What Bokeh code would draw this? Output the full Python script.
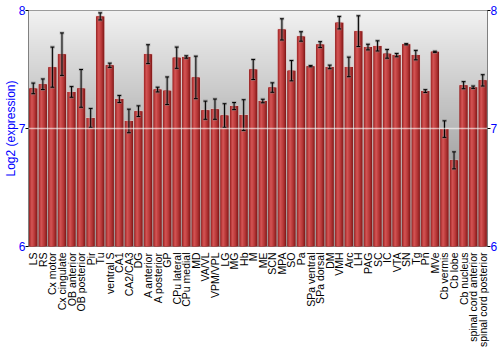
import numpy as np
from bokeh.plotting import figure
from bokeh.models import (ColumnDataSource, FactorRange, Range1d, LinearAxis, FixedTicker, Span)
from bokeh.transform import dodge
from bokeh.embed import file_html
from bokeh.resources import INLINE

categories = ["LS", "RS", "Cx motor", "Cx cingulate", "OB anterior", "OB posterior", "Pir", "Tu",
              "ventral S", "CA1", "CA2/CA3", "DG", "A anterior", "A posterior", "GP", "CPu lateral",
              "CPu medial", "MD", "VA/VL", "VPM/VPL", "LG", "MG", "Hb", "M", "ME", "SCN", "MPA", "SO",
              "Pa", "SPa ventral", "SPa dorsal", "DM", "VMH", "Arc", "LH", "PAG", "SC", "IC", "VTA",
              "SN", "Tg", "Pn", "MVe", "Cb vermis", "Cb lobe", "Cb nucleus",
              "spinal cord anterior", "spinal cord posterior"]
values = [7.34, 7.375, 7.52, 7.63, 7.31, 7.34, 7.09, 7.95, 7.536, 7.25,
          7.064, 7.147, 7.63, 7.33, 7.32, 7.60, 7.606, 7.433, 7.155, 7.164,
          7.11, 7.19, 7.114, 7.50, 7.233, 7.347, 7.84, 7.49, 7.78, 7.528,
          7.711, 7.522, 7.897, 7.522, 7.825, 7.69, 7.70, 7.633, 7.622, 7.714,
          7.622, 7.317, 7.65, 6.995, 6.73, 7.367, 7.35, 7.408]
errors = [0.045, 0.045, 0.17, 0.18, 0.045, 0.16, 0.08, 0.03, 0.018, 0.03,
          0.10, 0.045, 0.08, 0.02, 0.117, 0.09, 0.01, 0.18, 0.077, 0.086,
          0.10, 0.03, 0.13, 0.085, 0.015, 0.04, 0.09, 0.086, 0.04, 0.005,
          0.025, 0.015, 0.053, 0.083, 0.13, 0.024, 0.043, 0.037, 0.014, 0.005,
          0.04, 0.012, 0.005, 0.07, 0.072, 0.03, 0.01, 0.048]
y_ticks = [6, 7, 8]
y_min, y_max = 6, 8

vals = np.array(values)
errs = np.array(errors)
src = ColumnDataSource(dict(cat=categories, top=vals, halo=vals + 0.008,
                            upper=vals + errs, lower=vals - errs))

FONT = "Liberation Sans"
BLUE = "#0000ff"

p = figure(width=500, height=350, output_backend="svg", toolbar_location=None,
           x_range=FactorRange(factors=categories), y_range=Range1d(y_min, y_max),
           min_border_left=0, min_border_right=0, min_border_top=10, min_border_bottom=100)
p.background_fill_color = "white"
p.border_fill_color = "white"
p.outline_line_color = "#808080"
p.grid.visible = False

# gradient background (synthetic categorical coordinates 0..N)
rows = 240
img = np.zeros((rows, 1), dtype=np.uint32)
view = img.view(dtype=np.uint8).reshape((rows, 1, 4))
for i in range(rows):
    t = i / (rows - 1)  # 0 bottom, 1 top
    g = int(125 + (242 - 125) * t)
    view[i, 0, :] = [g, g, g, 255]
p.image_rgba(image=[img], x=0, y=y_min, dw=len(categories), dh=y_max - y_min)

# bars with simulated cylinder shading
p.vbar(x="cat", top="halo", bottom=y_min, width=0.97, source=src,
       fill_color="#f0c0c0", fill_alpha=0.45, line_color=None)
p.vbar(x="cat", top="top", bottom=y_min, width=0.86, source=src,
       fill_color="#851c1c", line_color=None)
p.vbar(x=dodge("cat", -0.04, range=p.x_range), top="top", bottom=y_min, width=0.74, source=src,
       fill_color="#a02a2a", line_color=None)
p.vbar(x=dodge("cat", -0.08, range=p.x_range), top="top", bottom=y_min, width=0.56, source=src,
       fill_color="#b63838", line_color=None)
p.vbar(x=dodge("cat", -0.11, range=p.x_range), top="top", bottom=y_min, width=0.36, source=src,
       fill_color="#c44444", line_color=None)
p.vbar(x=dodge("cat", -0.14, range=p.x_range), top="top", bottom=y_min, width=0.16, source=src,
       fill_color="#d05252", line_color=None)

# grid line at 7 over bars
p.add_layout(Span(location=7, dimension="width", line_color="white", line_alpha=0.6, line_width=1.5))

# error bars: shadow then black
cap_l = dodge("cat", -0.2, range=p.x_range)
cap_r = dodge("cat", 0.2, range=p.x_range)
p.segment(x0="cat", x1="cat", y0="lower", y1="upper", source=src,
          line_color="#808080", line_alpha=0.5, line_width=3)
p.segment(x0=dodge("cat", -0.24, range=p.x_range), x1=dodge("cat", 0.24, range=p.x_range),
          y0="upper", y1="upper", source=src, line_color="#808080", line_alpha=0.5, line_width=3)
p.segment(x0=dodge("cat", -0.24, range=p.x_range), x1=dodge("cat", 0.24, range=p.x_range),
          y0="lower", y1="lower", source=src, line_color="#808080", line_alpha=0.5, line_width=3)
p.segment(x0="cat", x1="cat", y0="lower", y1="upper", source=src,
          line_color="black", line_width=1)
p.segment(x0=cap_l, x1=cap_r, y0="upper", y1="upper", source=src, line_color="black", line_width=1)
p.segment(x0=cap_l, x1=cap_r, y0="lower", y1="lower", source=src, line_color="black", line_width=1)

# axes
ax = p.xaxis[0]
ax.major_label_orientation = np.pi / 2
ax.major_label_text_font = FONT
ax.major_label_text_font_size = "10.5px"
ax.major_label_text_color = "black"
ax.major_label_standoff = 0
ax.major_tick_line_color = None
ax.axis_line_color = None

ly = p.yaxis[0]
ly.ticker = FixedTicker(ticks=y_ticks)
ly.axis_label = "Log2 (expression)"
ly.axis_label_text_font = FONT
ly.axis_label_text_font_style = "normal"
ly.axis_label_text_font_size = "12px"
ly.axis_label_text_color = BLUE
ly.axis_label_standoff = -2
ly.major_label_text_font = FONT
ly.major_label_text_font_size = "12px"
ly.major_label_text_color = BLUE
ly.major_label_standoff = 0
ly.major_tick_in = 0
ly.major_tick_out = 3
ly.major_tick_line_color = "black"
ly.minor_tick_line_color = None
ly.axis_line_color = "#808080"

ry = LinearAxis(ticker=FixedTicker(ticks=y_ticks))
ry.major_label_text_font = FONT
ry.major_label_text_font_size = "12px"
ry.major_label_text_color = BLUE
ry.major_label_standoff = 0
ry.major_tick_in = 0
ry.major_tick_out = 3
ry.major_tick_line_color = "black"
ry.minor_tick_line_color = None
ry.axis_line_color = "#808080"
p.add_layout(ry, "right")

open("out.html", "w").write(file_html(p, INLINE))
